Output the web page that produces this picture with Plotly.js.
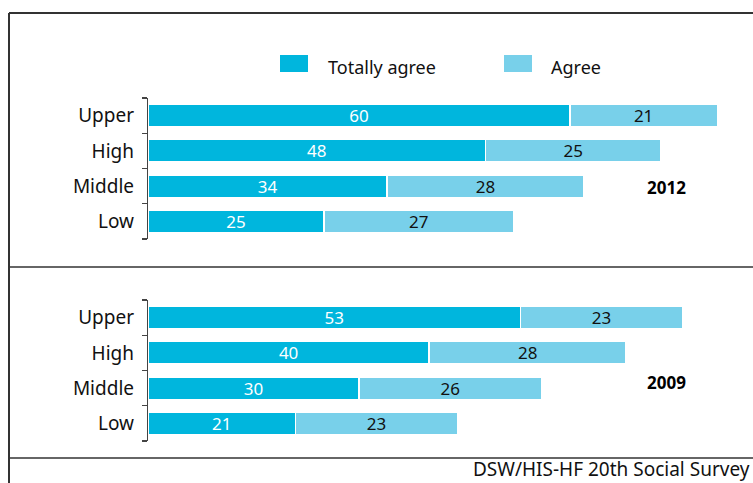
<!DOCTYPE html>
<html>
<head>
<meta charset="utf-8">
<script src="https://cdn.plot.ly/plotly-3.0.1.min.js"></script>
<style>html,body{margin:0;padding:0;background:#fff}#chart{width:753px;height:483px}</style>
</head>
<body>
<div id="chart"></div>
<script>
const categories = ["Low", "Middle", "High", "Upper"];
const totally2012 = [25, 34, 48, 60];
const agree2012 = [27, 28, 25, 21];
const totally2009 = [21, 30, 40, 53];
const agree2009 = [23, 26, 28, 23];
const seriesNames = ["Totally agree", "Agree"];
const years = ["2012", "2009"];
const source = "DSW/HIS-HF 20th Social Survey";

const DARK = "#00b6dd";
const LIGHT = "#78d0ea";
const FONT = "Noto Sans, Open Sans, sans-serif";
const W = 753, H = 483;
const px = v => v / W;
const py = v => 1 - v / H;

function bar(x, color, textColor, xa, ya) {
  return {
    type: "bar", orientation: "h", y: categories, x: x,
    xaxis: xa, yaxis: ya,
    marker: {color: color, line: {color: "#ffffff", width: 1.5}},
    text: x.map(String), textposition: "inside", insidetextanchor: "middle",
    textangle: 0,
    textfont: {family: FONT, size: 17, color: textColor},
    constraintext: "none", hoverinfo: "skip", showlegend: false
  };
}

const data = [
  bar(totally2012, DARK, "#ffffff", "x", "y"),
  bar(agree2012, LIGHT, "#111111", "x", "y"),
  bar(totally2009, DARK, "#ffffff", "x2", "y2"),
  bar(agree2009, LIGHT, "#111111", "x2", "y2")
];

const pxPerUnit = 7.03;
const x0 = 148;
const xmax = (W - x0) / pxPerUnit;

function xax() {
  return {domain: [px(x0), 1], range: [0, xmax], visible: false, fixedrange: true};
}
function yax(top, bottom, anchor) {
  return {
    domain: [py(bottom), py(top)], anchor: anchor,
    type: "category", categoryorder: "array", categoryarray: categories,
    showline: true, linecolor: "#444", linewidth: 1.2,
    ticks: "outside", tickson: "boundaries", ticklen: 5, tickcolor: "#444", tickwidth: 1.2,
    tickfont: {family: FONT, size: 19, color: "#111"},
    ticklabelstandoff: 9, showgrid: false, zeroline: false, fixedrange: true
  };
}

const lineStyle = {color: "#333", width: 1.5};
const shapes = [
  {type: "line", xref: "paper", yref: "paper", x0: px(9), x1: px(9), y0: py(13), y1: 0, line: {color: "#333", width: 2}},
  {type: "line", xref: "paper", yref: "paper", x0: px(9), x1: 1, y0: py(13), y1: py(13), line: {color: "#333", width: 2}},
  {type: "line", xref: "paper", yref: "paper", x0: px(9), x1: 1, y0: py(267), y1: py(267), line: lineStyle},
  {type: "line", xref: "paper", yref: "paper", x0: px(9), x1: 1, y0: py(458), y1: py(458), line: lineStyle},
  {type: "rect", xref: "paper", yref: "paper", x0: px(280), x1: px(308), y0: py(72), y1: py(55), fillcolor: DARK, line: {width: 0}},
  {type: "rect", xref: "paper", yref: "paper", x0: px(504), x1: px(532), y0: py(72), y1: py(55), fillcolor: LIGHT, line: {width: 0}}
];

const annotations = [
  {xref: "paper", yref: "paper", x: px(326), y: py(67), text: seriesNames[0], showarrow: false, xanchor: "left", yanchor: "middle", font: {family: FONT, size: 18, color: "#111"}},
  {xref: "paper", yref: "paper", x: px(549), y: py(67), text: seriesNames[1], showarrow: false, xanchor: "left", yanchor: "middle", font: {family: FONT, size: 18, color: "#111"}},
  {xref: "paper", yref: "paper", x: px(666), y: py(188), text: "<b>" + years[0] + "</b>", showarrow: false, xanchor: "center", yanchor: "middle", font: {family: FONT, size: 17, color: "#000"}},
  {xref: "paper", yref: "paper", x: px(666), y: py(382), text: "<b>" + years[1] + "</b>", showarrow: false, xanchor: "center", yanchor: "middle", font: {family: FONT, size: 17, color: "#000"}},
  {xref: "paper", yref: "paper", x: px(751), y: py(469), text: source, showarrow: false, xanchor: "right", yanchor: "middle", borderpad: 0, font: {family: FONT, size: 19, color: "#111"}}
];

const layout = {
  width: W, height: H,
  margin: {l: 0, r: 0, t: 0, b: 0},
  paper_bgcolor: "#fff", plot_bgcolor: "rgba(0,0,0,0)",
  barmode: "stack", bargap: 0.36,
  showlegend: false,
  xaxis: xax(), xaxis2: xax(),
  yaxis: yax(98, 239, "x"), yaxis2: yax(300, 441, "x2"),
  shapes: shapes, annotations: annotations,
  font: {family: FONT}
};
layout.xaxis2.anchor = "y2";
layout.xaxis.anchor = "y";

Plotly.newPlot("chart", data, layout, {displayModeBar: false, staticPlot: true});
</script>
</body>
</html>
